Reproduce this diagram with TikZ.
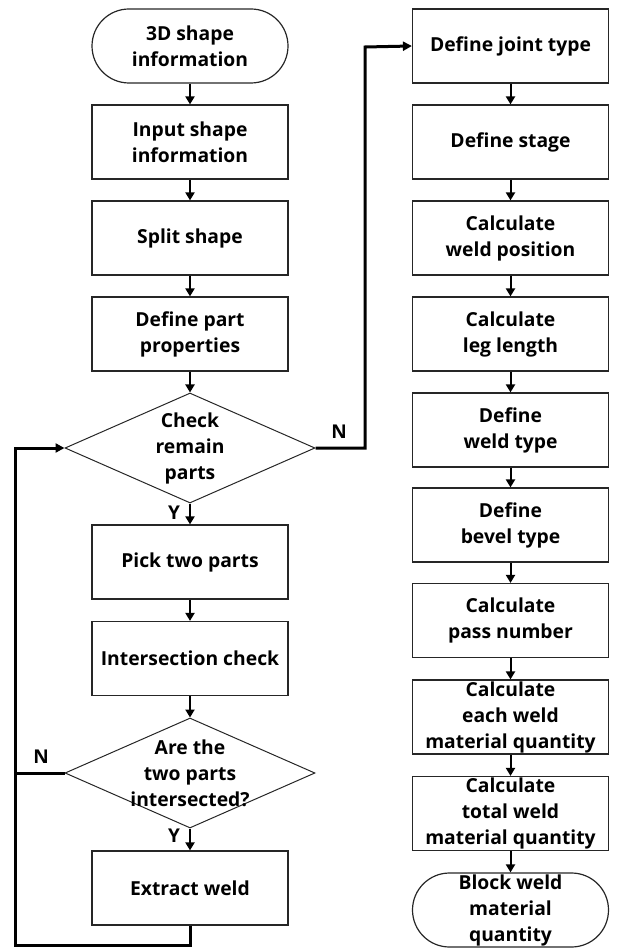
\documentclass[tikz,border=0pt]{standalone}
\usepackage{fontspec}
\setmainfont{Open Sans}
\usetikzlibrary{shapes.geometric,arrows.meta}
\begin{document}
\begin{tikzpicture}[x=1pt,y=-1pt,
  every node/.style={font=\fontsize{19.3}{26}\selectfont\bfseries, align=center, inner sep=0pt},
  box/.style={draw=black!85, line width=1.2pt, minimum width=196pt, minimum height=74pt},
  term/.style={box, rounded corners=37pt},
  dec/.style={draw=black!85, line width=1pt, shape=diamond, minimum width=250pt, minimum height=110pt},
  flow/.style={line width=2pt, -{Triangle[length=8pt,width=9pt]}},
  loopline/.style={line width=3pt},
  lbl/.style={font=\fontsize{19}{22}\selectfont\bfseries}
]
\useasboundingbox (0,0) rectangle (616,949);
% left column
\node[term] (start) at (190,46) {3D shape\\information};
\node[box] (input) at (190,142) {Input shape\\information};
\node[box] (split) at (190,238) {Split shape};
\node[box] (props) at (190,334) {Define part\\properties};
\node[dec, label=center:{Check\\remain\\parts}] (chk) at (190,448) {};
\node[box] (pick) at (190,562) {Pick two parts};
\node[box] (inter) at (190,658.5) {Intersection check};
\node[dec, label=center:{Are the\\two parts\\intersected?}] (isect) at (190,773) {};
\node[box] (extract) at (190,888) {Extract weld};
% right column
\node[box] (joint) at (510.5,46) {Define joint type};
\node[box] (stage) at (510.5,142) {Define stage};
\node[box] (wpos) at (510.5,238) {Calculate\\weld position};
\node[box] (leg) at (510.5,334) {Calculate\\leg length};
\node[box] (wtype) at (510.5,430) {Define\\weld type};
\node[box] (bevel) at (510.5,525) {Define\\bevel type};
\node[box] (pass) at (510.5,620.5) {Calculate\\pass number};
\node[box] (each) at (510.5,717) {Calculate\\each weld\\material quantity};
\node[box] (total) at (510.5,813.5) {Calculate\\total weld\\material quantity};
\node[term] (block) at (510.5,910) {Block weld\\material\\quantity};
% arrows left
\draw[flow] (start) -- (input);
\draw[flow] (input) -- (split);
\draw[flow] (split) -- (props);
\draw[flow] (props) -- (chk);
\draw[flow] (chk) -- (pick);
\draw[flow] (pick) -- (inter);
\draw[flow] (inter) -- (isect);
\draw[flow] (isect) -- (extract);
% arrows right
\draw[flow] (joint) -- (stage);
\draw[flow] (stage) -- (wpos);
\draw[flow] (wpos) -- (leg);
\draw[flow] (leg) -- (wtype);
\draw[flow] (wtype) -- (bevel);
\draw[flow] (bevel) -- (pass);
\draw[flow] (pass) -- (each);
\draw[flow] (each) -- (total);
\draw[flow] (total) -- (block);
% loop back
\coordinate (lb) at (15,945);
\draw[loopline, -{Triangle[length=9pt,width=9pt]}] (extract.south) |- (lb) |- (chk.west);
\draw[loopline] (isect.west) -- (isect.west -| lb);
% N branch to right column
\coordinate (rt) at (365,47);
\draw[loopline, -{Triangle[length=9pt,width=9pt]}] (chk.east) -| (rt) -- (joint.west);
% labels
\node[lbl] (y1) at (174,513) {Y};
\node[lbl] (y2) at (174,836) {Y};
\node[lbl] (n1) at (339,432) {N};
\node[lbl] (n2) at (41,757) {N};
\end{tikzpicture}
\end{document}
